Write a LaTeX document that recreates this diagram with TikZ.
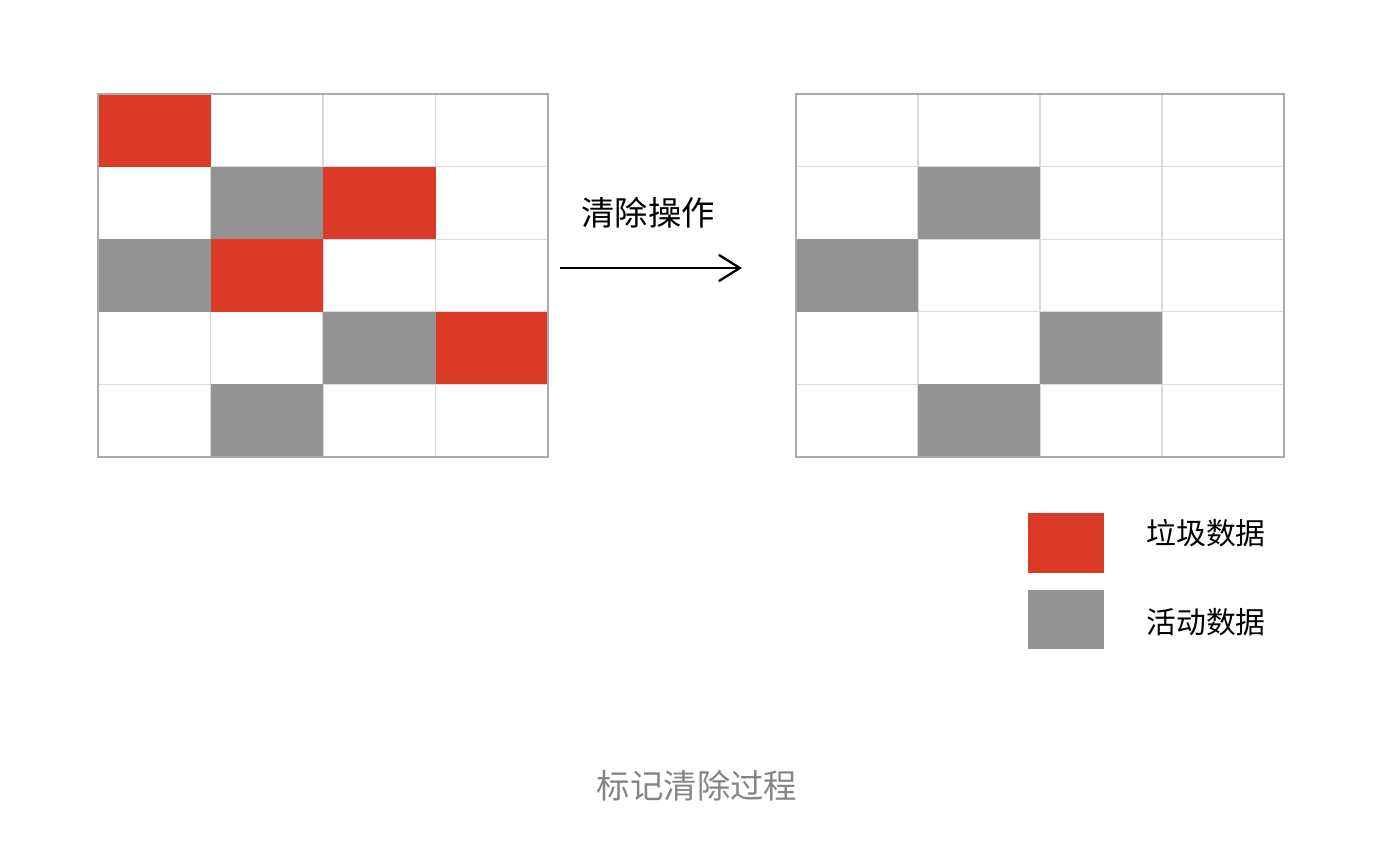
\documentclass[tikz,border=0pt]{standalone}
\usepackage{fontspec}
\newfontfamily\cjk{Noto Sans CJK SC}
\usetikzlibrary{arrows.meta}
\definecolor{garbage}{HTML}{DB3B26}
\definecolor{live}{HTML}{939393}
\definecolor{gridline}{HTML}{D9D9D9}
\definecolor{frame}{HTML}{ABABAB}
\definecolor{captiongray}{HTML}{858585}

\begin{document}
\begin{tikzpicture}[x=0.02cm,y=-0.02cm,font=\cjk]
\useasboundingbox (0,0) rectangle (1388,842);
% heap before sweeping
\foreach \c in {1,2,3} \draw[gridline,line width=0.6pt] (98+112.5*\c,94) -- ++(0,363);
\foreach \r in {1,...,4} \draw[gridline,line width=0.6pt] (98,94+72.6*\r) -- ++(450,0);
\foreach \c/\r/\col in {0/0/garbage,1/1/live,2/1/garbage,0/2/live,1/2/garbage,2/3/live,3/3/garbage,1/4/live}
  \fill[\col] (98+112.5*\c,94+72.6*\r) rectangle ++(112.5,72.6);
\draw[frame,line width=1.4pt] (98,94) rectangle (548,457);
%
% heap after sweeping
\foreach \c in {1,2,3} \draw[gridline,line width=0.6pt] (796+122*\c,94) -- ++(0,363);
\foreach \r in {1,...,4} \draw[gridline,line width=0.6pt] (796,94+72.6*\r) -- ++(488,0);
\foreach \c/\r in {1/1,0/2,2/3,1/4}
  \fill[live] (796+122*\c,94+72.6*\r) rectangle ++(122,72.6);
\draw[frame,line width=1.4pt] (796,94) rectangle (1284,457);
%
% sweep arrow
\coordinate (sweepstart) at (560,268);
\coordinate (sweepend) at (742,268);
\draw[line width=1.5pt,-{Straight Barb[length=12pt,width=15pt,line width=1.3pt]}] (sweepstart) -- (sweepend);
\node[font=\cjk\fontsize{19}{22}\selectfont] (sweeplabel) at (648,213) {清除操作};
%
% legend
\fill[garbage] (1028,513) rectangle (1104,573);
\fill[live] (1028,590) rectangle (1104,649);
\node[font=\cjk\fontsize{17}{20}\selectfont] (garbagelabel) at (1206,533) {垃圾数据};
\node[font=\cjk\fontsize{17}{20}\selectfont] (livelabel) at (1206,622) {活动数据};
%
\node[font=\cjk\fontsize{19}{22}\selectfont,text=captiongray] (caption) at (697,786) {标记清除过程};
\end{tikzpicture}
\end{document}
